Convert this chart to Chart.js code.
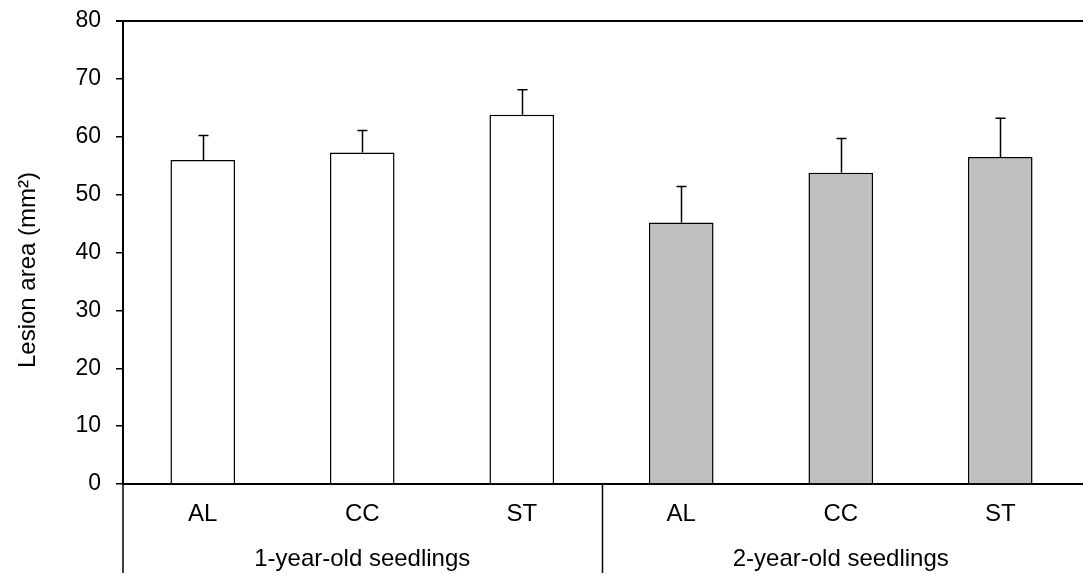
<!DOCTYPE html>
<html>
<head>
<meta charset="utf-8">
<script src="https://cdn.jsdelivr.net/npm/chart.js@4/dist/chart.umd.min.js"></script>
<style>
html,body{margin:0;padding:0;background:#fff;}
#wrap{width:1083px;height:581px;position:relative;}
</style>
</head>
<body>
<div id="wrap"><canvas id="c" width="1083" height="581"></canvas></div>
<script>
const categories = ['AL', 'CC', 'ST', 'AL', 'CC', 'ST'];
const groups = ['1-year-old seedlings', '2-year-old seedlings'];
const meanValues = [56.0, 57.3, 63.8, 45.2, 53.8, 56.5];
const errorValues = [4.2, 3.8, 4.3, 6.2, 5.9, 6.7];
const groupOfBar = [0, 0, 0, 1, 1, 1];
const yTitle = 'Lesion area (mm\u00B2)';
const yMin = 0, yMax = 80, yStep = 10;

const FONT = "'Liberation Sans', Arial, Helvetica, sans-serif";
const groupFill = ['#ffffff', '#c0c0c0'];

const decorPlugin = {
  id: 'decor',
  afterDatasetsDraw(chart) {
    const ctx = chart.ctx;
    const meta = chart.getDatasetMeta(0);
    const ys = chart.scales.y;
    ctx.save();
    ctx.strokeStyle = '#000';
    ctx.lineWidth = 1.5;
    meta.data.forEach((bar, i) => {
      const top = ys.getPixelForValue(meanValues[i] + errorValues[i]);
      const x = Math.round(bar.x) + 0.5;
      ctx.beginPath();
      ctx.moveTo(x, bar.y);
      ctx.lineTo(x, top);
      ctx.moveTo(x - 5, top);
      ctx.lineTo(x + 5, top);
      ctx.stroke();
    });
    ctx.restore();
  },
  afterDraw(chart) {
    const ctx = chart.ctx;
    const a = chart.chartArea;
    const xs = chart.scales.x;
    ctx.save();
    ctx.strokeStyle = '#000';
    ctx.lineWidth = 2;
    ctx.beginPath();
    ctx.moveTo(a.left - 7, a.top);
    ctx.lineTo(chart.width, a.top);
    ctx.moveTo(a.right - 1, a.bottom);
    ctx.lineTo(chart.width, a.bottom);
    ctx.stroke();
    ctx.lineWidth = 1.5;
    const sep = (xs.getPixelForValue(2) + xs.getPixelForValue(3)) / 2;
    const bottom = 573;
    ctx.beginPath();
    ctx.moveTo(a.left, a.bottom);
    ctx.lineTo(a.left, bottom);
    ctx.moveTo(Math.round(sep) + 0.5, a.bottom);
    ctx.lineTo(Math.round(sep) + 0.5, bottom);
    ctx.stroke();
    ctx.fillStyle = '#000';
    ctx.font = '24px ' + FONT;
    ctx.textAlign = 'center';
    ctx.textBaseline = 'middle';
    ctx.translate(28, 270);
    ctx.rotate(-Math.PI / 2);
    ctx.fillText(yTitle, 0, 0);
    ctx.restore();
  }
};

new Chart(document.getElementById('c'), {
  type: 'bar',
  data: {
    labels: categories,
    datasets: [{
      data: meanValues,
      backgroundColor: (c) => groupFill[groupOfBar[c.dataIndex] || 0],
      borderColor: '#000',
      borderWidth: 1.5,
      borderSkipped: 'start',
      categoryPercentage: 1,
      barPercentage: 0.405
    }]
  },
  options: {
    responsive: false,
    animation: false,
    events: [],
    layout: { padding: { left: 0, top: 21, right: 3, bottom: 0 } },
    plugins: { legend: { display: false }, tooltip: { enabled: false }, title: { display: false } },
    scales: {
      y: {
        min: yMin, max: yMax,
        z: 1,
        afterFit: (s) => { s.width = 123; s.paddingTop = 0; s.paddingBottom = 0; },
        ticks: { stepSize: yStep, color: '#000', font: { family: FONT, size: 23 }, padding: 15 },
        grid: { drawOnChartArea: false, drawTicks: true, tickLength: 7, color: '#000', lineWidth: 1.5 },
        border: { display: true, color: '#000', width: 2 }
      },
      x: {
        type: 'category',
        z: 1,
        weight: 0,
        afterFit: (s) => { s.height = 48; s.paddingLeft = 0; s.paddingRight = 0; },
        ticks: { color: '#000', font: { family: FONT, size: 24 }, padding: 16, maxRotation: 0, autoSkip: false },
        grid: { display: false, drawTicks: false },
        border: { display: true, color: '#000', width: 2 }
      },
      x2: {
        type: 'category',
        labels: groups,
        position: 'bottom',
        offset: true,
        weight: 1,
        afterFit: (s) => { s.height = 49; s.paddingLeft = 0; s.paddingRight = 0; },
        ticks: { color: '#000', font: { family: FONT, size: 24 }, padding: 13, maxRotation: 0, autoSkip: false },
        grid: { display: false, drawTicks: false },
        border: { display: false }
      }
    }
  },
  plugins: [decorPlugin]
});
</script>
</body>
</html>
